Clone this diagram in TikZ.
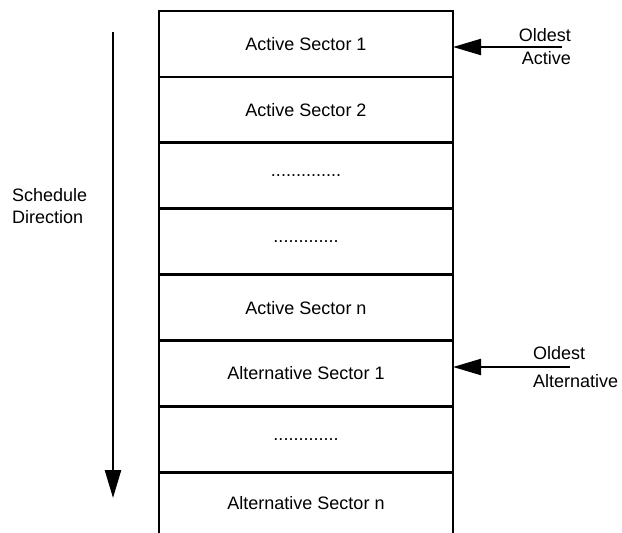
\documentclass[tikz,border=0pt]{standalone}
\usepackage{fontspec}
\setmainfont{Liberation Sans}
\usetikzlibrary{arrows.meta,positioning}

\begin{document}
\begin{tikzpicture}[
    x=1pt, y=-1pt,
    node distance=0pt,
    every node/.style={font=\fontsize{18}{21.6}\selectfont},
    sector/.style={rectangle, draw, line width=2.8pt, outer sep=0pt,
                   minimum width=294pt, minimum height=65.9pt, text centered},
    lbl/.style={inner sep=0pt},
    arrow/.style={-{Triangle[length=28pt, width=16pt]}, line width=2.2pt}
]
\useasboundingbox (0,0) rectangle (622,533);

% Sector stack
\node[sector] (act1) at (306,44) {Active Sector 1};
\node[sector, below=of act1] (act2) {Active Sector 2};
\node[sector, below=of act2] (gap1) {..............};
\node[sector, below=of gap1] (gap2) {.............};
\node[sector, below=of gap2] (actn) {Active Sector n};
\node[sector, below=of actn] (alt1) {Alternative Sector 1};
\node[sector, below=of alt1] (gap3) {.............};
\node[sector, draw=none, minimum height=61pt, below=of gap3] (altn) {Alternative Sector n};
\draw[line width=2.8pt] (altn.north west) -- (altn.south west);
\draw[line width=2.8pt] (altn.north east) -- (altn.south east);

% Schedule direction
\coordinate (sched-top) at (113,32);
\coordinate (sched-tip) at (113,498);
\draw[arrow, line width=2.6pt] (sched-top) -- (sched-tip);
\node[lbl, align=left, anchor=west] (sched) at (12,206) {Schedule\\Direction};

% Oldest pointers
\node[lbl, align=right, anchor=east] (oldact) at (571,47) {Oldest\\[1.5pt]Active};
\node[lbl, align=left, anchor=west] (oldalt) at (533,367) {Oldest\\[6pt]Alternative};
\coordinate (oldact-start) at (562,47);
\coordinate (oldalt-start) at (570,367);
\draw[arrow] (oldact-start) -- (oldact-start -| act1.east);
\draw[arrow] (oldalt-start) -- (oldalt-start -| alt1.east);

\end{tikzpicture}
\end{document}
